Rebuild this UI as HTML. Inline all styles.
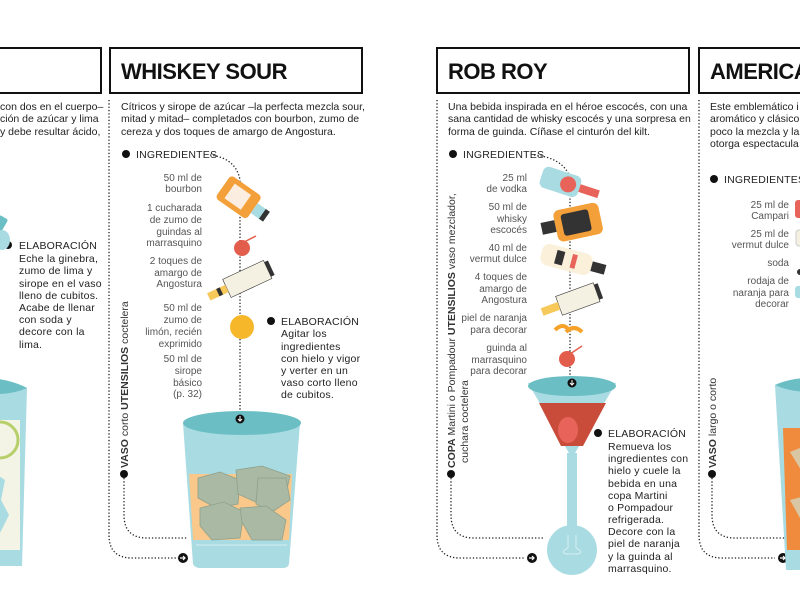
<!DOCTYPE html>
<html><head><meta charset="utf-8"><style>
html,body{margin:0;padding:0;background:#fff;}
svg{display:block;font-family:"Liberation Sans",sans-serif;}
.d{font-size:10.5px;fill:#222;}
.i{font-size:10px;fill:#555;text-anchor:end;}
.e{font-size:10.5px;fill:#222;letter-spacing:0.2px;}
.t{font-size:22px;font-weight:bold;fill:#111;letter-spacing:-0.5px;}
.dot{fill:none;stroke:#222;stroke-width:1.3;stroke-dasharray:1.3 2;}
</style></head><body>
<svg width="800" height="611" viewBox="0 0 800 611" xmlns="http://www.w3.org/2000/svg">
<rect width="800" height="611" fill="#fff"/>
<!-- header boxes -->
<g fill="none" stroke="#111" stroke-width="2">
<rect x="-5" y="48" width="106" height="45"/>
<rect x="110" y="48" width="252" height="45"/>
<rect x="437" y="48" width="252" height="45"/>
<rect x="699" y="48" width="110" height="45"/>
</g>
<text class="t" x="121" y="79">WHISKEY SOUR</text>
<text class="t" x="448" y="79">ROB ROY</text>
<text class="t" x="710" y="79">AMERICA</text>

<!-- main vertical dotted lines -->
<path class="dot" d="M109 100 V535 Q109 558 132 558 H178"/>
<path class="dot" d="M437 100 V535 Q437 558 460 558 H524"/>
<path class="dot" d="M699 100 V535 Q699 558 722 558 H775"/>
<!-- inner connectors -->
<path class="dot" d="M124 478 V515 Q124 538 147 538 H188"/>
<path class="dot" d="M451 478 V515 Q451 538 474 538 H543"/>
<path class="dot" d="M712 478 V515 Q712 538 735 538 H787"/>
<!-- arrows -->
<g fill="#111"><circle cx="183" cy="558" r="5"/><circle cx="532" cy="558" r="5"/><circle cx="783" cy="558" r="5"/></g>
<g stroke="#fff" stroke-width="1.2" fill="none"><path d="M180 558h5m-2-2l2 2-2 2"/><path d="M529 558h5m-2-2l2 2-2 2"/><path d="M780 558h5m-2-2l2 2-2 2"/></g>

<!-- left column -->
<text class="d" x="0" y="110">con dos en el cuerpo–</text>
<text class="d" x="0" y="122">ción de azúcar y lima</text>
<text class="d" x="0" y="135">y debe resultar ácido,</text>
<circle cx="8" cy="245" r="4" fill="#111"/>
<g class="e"><text x="19" y="249">ELABORACIÓN</text><text x="19" y="262">Eche la ginebra,</text><text x="19" y="274">zumo de lima y</text><text x="19" y="287">sirope en el vaso</text><text x="19" y="299">lleno de cubitos.</text><text x="19" y="311">Acabe de llenar</text><text x="19" y="323">con soda y</text><text x="19" y="335">decore con la</text><text x="19" y="348">lima.</text></g>
<rect x="-4" y="216" width="10" height="14" rx="2" fill="#6bbfc4" transform="rotate(30 0 222)"/>
<ellipse cx="2" cy="240" rx="8" ry="10" fill="#a8dbe2"/>
<path d="M-10 378 Q12 380 27 388 L22 566 L-10 566Z" fill="#a8dbe2"/>
<path d="M-10 378 Q12 380 27 388 Q12 395 -10 394Z" fill="#6bbfc4"/>
<rect x="-10" y="420" width="30" height="130" fill="#f4f4e6"/>
<circle cx="0" cy="440" r="18" fill="none" stroke="#b7cf6a" stroke-width="3"/>
<path d="M-10 470l15 10-4 20 8 15-10 20-9-10z" fill="#a8dbe2"/>

<!-- WHISKEY SOUR -->
<text class="d" x="121" y="110">Cítricos y sirope de azúcar –la perfecta mezcla sour,</text>
<text class="d" x="121" y="122">mitad y mitad– completados con bourbon, zumo de</text>
<text class="d" x="121" y="135">cereza y dos toques de amargo de Angostura.</text>
<circle cx="126" cy="154" r="4" fill="#111"/>
<text class="e" x="136" y="158">INGREDIENTES</text>
<path class="dot" d="M210 155 Q236 158 240 180 V415"/>
<g class="i">
<text x="202" y="181">50 ml de</text><text x="202" y="192">bourbon</text>
<text x="202" y="211">1 cucharada</text><text x="202" y="223">de zumo de</text><text x="202" y="235">guindas al</text><text x="202" y="246">marrasquino</text>
<text x="202" y="264">2 toques de</text><text x="202" y="276">amargo de</text><text x="202" y="287">Angostura</text>
<text x="202" y="311">50 ml de</text><text x="202" y="323">zumo de</text><text x="202" y="335">limón, recién</text><text x="202" y="347">exprimido</text>
<text x="202" y="362">50 ml de</text><text x="202" y="374">sirope</text><text x="202" y="386">básico</text><text x="202" y="397">(p. 32)</text>
</g>
<g transform="rotate(35 240 197)"><rect x="220" y="184" width="38" height="28" rx="4" fill="#f4a03a"/><rect x="228" y="189" width="20" height="18" fill="#fbeee0"/><rect x="258" y="192" width="12" height="12" fill="#a8dbe2"/><rect x="268" y="192" width="5" height="12" fill="#333"/></g>
<circle cx="242" cy="248" r="8" fill="#e35d4c"/><path d="M244 242 L256 236" stroke="#e35d4c" stroke-width="1.5"/>
<g transform="rotate(-25 245 280)"><rect x="225" y="270" width="45" height="20" fill="#f4f0e2" stroke="#333" stroke-width=".6"/><rect x="270" y="272" width="4" height="16" fill="#333"/><rect x="205" y="276" width="20" height="8" fill="#f6c95a"/><rect x="215" y="276" width="4" height="8" fill="#333"/></g>
<circle cx="242" cy="327" r="12" fill="#f6b82a"/>
<circle cx="271" cy="321" r="4" fill="#111"/>
<g class="e"><text x="281" y="325">ELABORACIÓN</text><text x="281" y="337">Agitar los</text><text x="281" y="350">ingredientes</text><text x="281" y="362">con hielo y vigor</text><text x="281" y="374">y verter en un</text><text x="281" y="386">vaso corto lleno</text><text x="281" y="398">de cubitos.</text></g>
<text transform="translate(128 468) rotate(-90)" style="font-size:10.5px;fill:#333"><tspan font-weight="bold">VASO</tspan> corto <tspan font-weight="bold">UTENSILIOS</tspan> coctelera</text>
<circle cx="124" cy="474" r="4" fill="#111"/>
<!-- tumbler -->
<path d="M183 423 L193 564 Q195 568 200 568 L283 568 Q288 568 289 564 L300 423Z" fill="#a8dbe2"/>
<ellipse cx="242" cy="423" rx="59" ry="12" fill="#6bbfc4"/>
<path d="M189 474 L292 474 L289 540 L193 540Z" fill="#f9c88a"/>
<g fill="#a9b9a3" stroke="#8fa08c" stroke-width=".8">
<path d="M198 478l22-6 20 8-2 24-22 4-18-10z"/><path d="M236 470l26-4 28 10-6 26-24 2-22-10z"/><path d="M258 478l28 0 4 22-18 12-16-8z"/>
<path d="M200 508l24-6 20 10-4 26-28 2-12-14z"/><path d="M240 508l26-2 20 14-4 20-30 0-10-18z"/></g>
<path d="M196 545 L287 545" stroke="#d6eef1" stroke-width="1"/>
<circle cx="240" cy="419" r="4.5" fill="#111"/><path d="M240 416v5m-2-2l2 2 2-2" stroke="#fff" stroke-width="1" fill="none"/>

<!-- ROB ROY -->
<text class="d" x="448" y="110">Una bebida inspirada en el héroe escocés, con una</text>
<text class="d" x="448" y="122">sana cantidad de whisky escocés y una sorpresa en</text>
<text class="d" x="448" y="135">forma de guinda. Cíñase el cinturón del kilt.</text>
<circle cx="453" cy="154" r="4" fill="#111"/>
<text class="e" x="463" y="158">INGREDIENTES</text>
<path class="dot" d="M534 155 Q564 158 570 178 V380"/>
<g class="i">
<text x="527" y="181">25 ml</text><text x="527" y="192">de vodka</text>
<text x="527" y="210">50 ml de</text><text x="527" y="222">whisky</text><text x="527" y="233">escocés</text>
<text x="527" y="251">40 ml de</text><text x="527" y="262">vermut dulce</text>
<text x="527" y="280">4 toques de</text><text x="527" y="292">amargo de</text><text x="527" y="303">Angostura</text>
<text x="527" y="321">piel de naranja</text><text x="527" y="333">para decorar</text>
<text x="527" y="351">guinda al</text><text x="527" y="363">marrasquino</text><text x="527" y="374">para decorar</text>
</g>
<g transform="rotate(18 570 185)"><rect x="540" y="174" width="40" height="22" rx="6" fill="#a8dbe2"/><circle cx="568" cy="185" r="8" fill="#e8645a"/><rect x="580" y="181" width="20" height="8" fill="#e8645a"/></g>
<g transform="rotate(-12 574 222)"><rect x="555" y="207" width="46" height="32" rx="6" fill="#f4a03a"/><rect x="562" y="212" width="28" height="22" rx="3" fill="#333"/><rect x="541" y="216" width="14" height="12" fill="#333"/></g>
<g transform="rotate(15 572 262)"><rect x="540" y="250" width="52" height="22" rx="8" fill="#fbf1da"/><rect x="555" y="254" width="8" height="14" fill="#333"/><rect x="571" y="254" width="5" height="14" fill="#e8645a"/><rect x="592" y="256" width="14" height="10" fill="#333"/></g>
<g transform="rotate(-20 575 300)"><rect x="558" y="290" width="40" height="20" fill="#f4f0e2" stroke="#333" stroke-width=".6"/><rect x="598" y="292" width="4" height="16" fill="#333"/><rect x="540" y="296" width="18" height="8" fill="#f6c95a"/></g>
<path d="M555 330q8-8 14 0M566 332q8-8 16 0" stroke="#f6a22a" stroke-width="4" fill="none"/>
<circle cx="567" cy="359" r="8" fill="#e35d4c"/><path d="M570 354l12-8" stroke="#e35d4c" stroke-width="1.5"/>
<path d="M528 383 L616 383 L575 453 L569 453Z" fill="#a8dbe2"/>
<ellipse cx="572" cy="386" rx="44" ry="10" fill="#6bbfc4"/>
<path d="M539 403 L606 403 L583 446 L561 446Z" fill="#c94b3a"/>
<ellipse cx="568" cy="430" rx="10" ry="13" fill="#e8645a"/>
<rect x="567" y="453" width="10" height="95" fill="#a8dbe2"/>
<circle cx="572" cy="550" r="25" fill="#a8dbe2"/>
<path d="M568 535 V548 Q560 552 566 554 H578 Q584 552 576 548 V535" stroke="#d6eef1" fill="none"/>
<circle cx="572" cy="383" r="4.5" fill="#111"/><path d="M572 380v5m-2-2l2 2 2-2" stroke="#fff" stroke-width="1" fill="none"/>
<circle cx="598" cy="433" r="4" fill="#111"/>
<g class="e"><text x="608" y="437">ELABORACIÓN</text><text x="608" y="450">Remueva los</text><text x="608" y="462">ingredientes con</text><text x="608" y="474">hielo y cuele la</text><text x="608" y="487">bebida en una</text><text x="608" y="499">copa Martini</text><text x="608" y="511">o Pompadour</text><text x="608" y="523">refrigerada.</text><text x="608" y="535">Decore con la</text><text x="608" y="547">piel de naranja</text><text x="608" y="560">y la guinda al</text><text x="608" y="572">marrasquino.</text></g>
<text transform="translate(455 468) rotate(-90)" style="font-size:10.5px;fill:#333"><tspan font-weight="bold">COPA</tspan> Martini o Pompadour <tspan font-weight="bold">UTENSILIOS</tspan> vaso mezclador,</text>
<text transform="translate(468 463) rotate(-90)" style="font-size:10.5px;fill:#333">cuchara coctelera</text>
<circle cx="451" cy="474" r="4" fill="#111"/>

<!-- AMERICANO -->
<text class="d" x="710" y="110">Este emblemático i</text>
<text class="d" x="710" y="122">aromático y clásico</text>
<text class="d" x="710" y="135">poco la mezcla y la</text>
<text class="d" x="710" y="147">otorga espectacula</text>
<circle cx="714" cy="179" r="4" fill="#111"/>
<text class="e" x="724" y="183">INGREDIENTES -</text>
<g class="i">
<text x="789" y="208">25 ml de</text><text x="789" y="219">Campari</text>
<text x="789" y="237">25 ml de</text><text x="789" y="248">vermut dulce</text>
<text x="789" y="266">soda</text>
<text x="789" y="284">rodaja de</text><text x="789" y="296">naranja para</text><text x="789" y="307">decorar</text>
</g>
<rect x="795" y="200" width="10" height="18" rx="3" fill="#e8645a"/>
<rect x="796" y="230" width="8" height="16" rx="3" fill="#f4f0e2" stroke="#ccc"/>
<circle cx="800" cy="272" r="3" fill="#333"/>
<rect x="795" y="286" width="8" height="12" rx="3" fill="#a8dbe2"/>
<text transform="translate(716 468) rotate(-90)" style="font-size:10.5px;fill:#333"><tspan font-weight="bold">VASO</tspan> largo o corto</text>
<circle cx="712" cy="474" r="4" fill="#111"/>
<path d="M775 385 Q790 378 810 378 V570 H786Z" fill="#a8dbe2"/>
<path d="M775 385 Q790 378 810 378 V392 Q790 392 775 385Z" fill="#6bbfc4"/>
<path d="M783 428 H810 V550 H787Z" fill="#f08a3c"/>
<path d="M790 452l15-6 8 14-12 10z M790 500l15-4 8 14-12 10z" fill="#d9c7a4"/>
</svg>
</body></html>
